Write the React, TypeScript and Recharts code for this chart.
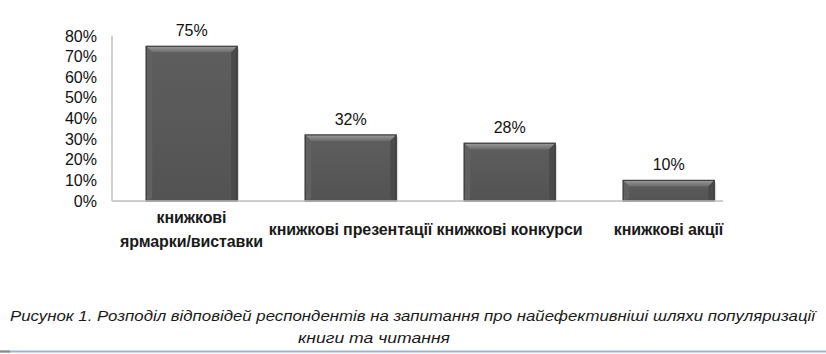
import React from 'react';
import { BarChart, Bar, XAxis, YAxis, LabelList } from 'recharts';

const categories = ['книжкові|ярмарки/виставки', 'книжкові презентації', 'книжкові конкурси', 'книжкові акції'];
const values = [75, 32, 28, 10];
const yTicks = [0, 10, 20, 30, 40, 50, 60, 70, 80];
const captionLine1 = 'Рисунок 1. Розподіл відповідей респондентів на запитання про найефективніші шляхи популяризації';
const captionLine2 = 'книги та читання';

const data = categories.map((c, i) => ({ name: c, value: values[i] }));

const FONT = '"Liberation Sans", Arial, sans-serif';

const BevelBar = (props: any) => {
  const { x, y, width, height } = props;
  if (!height || height <= 0) return null;
  const b = 6;
  return (
    <g>
      <rect x={x + 2} y={y + 2} width={width} height={height - 2} fill="#c8c8c8" opacity={0.6} />
      <rect x={x} y={y} width={width} height={height} fill="url(#barBody)" stroke="#3c3c3c" strokeWidth={1} />
      <polygon points={`${x},${y} ${x + width},${y} ${x + width - b},${y + b} ${x + b},${y + b}`} fill="url(#bevelTop)" />
      <polygon points={`${x},${y} ${x + b},${y + b} ${x + b},${y + height - 2} ${x},${y + height}`} fill="#616161" />
      <polygon points={`${x + width},${y} ${x + width - b},${y + b} ${x + width - b},${y + height - 2} ${x + width},${y + height}`} fill="#4a4a4a" />
      <rect x={x} y={y} width={width} height={height} fill="none" stroke="#3a3a3a" strokeWidth={1} />
    </g>
  );
};

const XTick = (props: any) => {
  const { x, payload } = props;
  const lines = String(payload.value).split('|');
  const centerY = 229;
  const lh = 24;
  const startY = centerY - ((lines.length - 1) * lh) / 2;
  return (
    <g>
      {lines.map((l: string, i: number) => (
        <text key={i} x={x} y={startY + i * lh} textAnchor="middle" dominantBaseline="central"
          fontFamily={FONT} fontSize={16} fontWeight="bold" fill="#1a1a1a" letterSpacing={-0.1}>
          {l}
        </text>
      ))}
    </g>
  );
};

const YTick = (props: any) => {
  const { y, payload } = props;
  return (
    <text x={97} y={y} textAnchor="end" dominantBaseline="central" fontFamily={FONT} fontSize={16} fill="#111">
      {payload.value}%
    </text>
  );
};

export default function App() {
  return (
    <div style={{ position: 'absolute', left: 0, top: 0, width: 826, height: 354, background: '#fff' }}>
      <BarChart width={826} height={354} data={data} margin={{ top: 36, right: 103, bottom: 0, left: 0 }} barCategoryGap="21.5%">
        <defs>
          <linearGradient id="barBody" x1="0" y1="0" x2="0" y2="1">
            <stop offset="0%" stopColor="#5e5e5e" />
            <stop offset="100%" stopColor="#535353" />
          </linearGradient>
          <linearGradient id="bevelTop" x1="0" y1="0" x2="0" y2="1">
            <stop offset="0%" stopColor="#9a9a9a" />
            <stop offset="100%" stopColor="#6c6c6c" />
          </linearGradient>
        </defs>
        <XAxis dataKey="name" axisLine={{ stroke: '#bfbfbf', strokeWidth: 1.5 }} tickLine={false}
          tick={<XTick />} interval={0} padding={{ left: 0, right: -25 }} height={153} />
        <YAxis domain={[0, 80]} ticks={yTicks} axisLine={{ stroke: '#bfbfbf', strokeWidth: 1.5 }} tickLine={false}
          tick={<YTick />} width={112} interval={0} />
        <Bar dataKey="value" shape={<BevelBar />} isAnimationActive={false}>
          <LabelList dataKey="value" position="top" offset={10} formatter={(v: any) => `${v}%`}
            style={{ fontFamily: FONT, fontSize: 16, fill: '#111' }} />
        </Bar>
      </BarChart>
      <svg width={826} height={354} style={{ position: 'absolute', left: 0, top: 0, pointerEvents: 'none' }}>
        <text x={10} y={315} dominantBaseline="central" fontFamily={FONT} fontStyle="italic" fontSize={15}
          fill="#1a1a1a" textLength={805} lengthAdjust="spacingAndGlyphs">{captionLine1}</text>
        <text x={298} y={337} dominantBaseline="central" fontFamily={FONT} fontStyle="italic" fontSize={15}
          fill="#1a1a1a" textLength={152} lengthAdjust="spacingAndGlyphs">{captionLine2}</text>
        <line x1={0} y1={351.5} x2={826} y2={351.5} stroke="#9db3d6" strokeWidth={2} />
        <line x1={0} y1={351.5} x2={10} y2={351.5} stroke="#8a8a8a" strokeWidth={2} />
      </svg>
    </div>
  );
}
